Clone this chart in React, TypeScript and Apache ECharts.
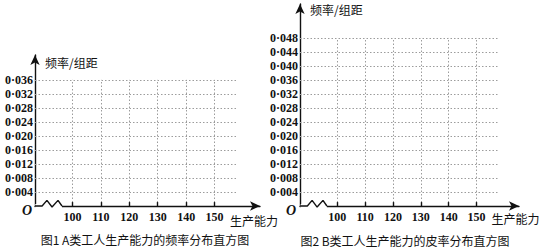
import React, { useEffect, useRef } from "react";
import * as echarts from "echarts";

// Capacity classes marked on both horizontal axes
const capacityTicks = [100, 110, 120, 130, 140, 150];
// Frequency / class-width levels for the A and B worker charts
const densityTicksA = [0.004, 0.008, 0.012, 0.016, 0.02, 0.024, 0.028, 0.032, 0.036];
const densityTicksB = [0.004, 0.008, 0.012, 0.016, 0.02, 0.024, 0.028, 0.032, 0.036, 0.04, 0.044, 0.048];
const densityStep = 0.004;
// Axis-break zigzag near the origin (data units)
const breakX = [86.8, 89.3, 91.0, 92.8, 94.9, 96.3];
const breakY = [0, 0, 0.0016, -0.0003, 0.0016, 0];

const yName = "频率/组距";
const xName = "生产能力";
const captionA = "图1 A类工人生产能力的频率分布直方图";
const captionB = "图2 B类工人生产能力的皮率分布直方图";

const serif = "Liberation Serif";
const cjk = "Noto Sans CJK SC";
const ink = "#111111";
const gridColor = "#9c9c9c";

type Panel = {
  grid: { left: number; top: number; width: number; height: number };
  xMin: number;
  xMax: number;
  xGridEnd: number;
  yMax: number;
  yTicks: number[];
  xNameGap: number;
  xNamePadTop: number;
  yNameGap: number;
};

const panels: Panel[] = [
  {
    grid: { left: 35, top: 55, width: 225, height: 151 },
    xMin: 86.8,
    xMax: 166.0,
    xGridEnd: 157.9,
    yMax: 0.0431,
    yTicks: densityTicksA,
    xNameGap: -30,
    xNamePadTop: 8,
    yNameGap: -7,
  },
  {
    grid: { left: 300, top: 4, width: 222, height: 202 },
    xMin: 86.66,
    xMax: 165.2,
    xGridEnd: 157.5,
    yMax: 0.0577,
    yTicks: densityTicksB,
    xNameGap: -28,
    xNamePadTop: 6,
    yNameGap: -5,
  },
];

const fmtDensity = (v: number) => "0·" + String(Math.round(v * 1000)).padStart(3, "0");

function buildOption() {
  const grids = panels.map((p) => ({ ...p.grid, containLabel: false }));

  const xAxes = panels.map((p, i) => ({
    type: "value",
    gridIndex: i,
    min: p.xMin,
    max: p.xMax,
    minInterval: 10,
    maxInterval: 10,
    name: xName,
    nameLocation: "end",
    nameGap: p.xNameGap,
    nameTextStyle: {
      fontFamily: cjk,
      fontSize: 12,
      color: ink,
      align: "left",
      verticalAlign: "top",
      padding: [p.xNamePadTop, 0, 0, 0],
    },
    axisLine: {
      show: true,
      symbol: ["none", "arrow"],
      symbolSize: [7, 10],
      lineStyle: { color: ink, width: 1.4 },
    },
    axisTick: { show: false },
    axisLabel: {
      show: true,
      margin: 5,
      fontFamily: serif,
      fontWeight: "bold",
      fontSize: 12,
      color: ink,
      showMinLabel: false,
      showMaxLabel: false,
      formatter: (v: number) => (capacityTicks.includes(Math.round(v)) ? String(Math.round(v)) : ""),
    },
    splitLine: { show: false },
  }));

  const yAxes = panels.map((p, i) => ({
    type: "value",
    gridIndex: i,
    min: 0,
    max: p.yMax,
    interval: densityStep,
    name: yName,
    nameLocation: "end",
    nameGap: p.yNameGap,
    nameTextStyle: {
      fontFamily: cjk,
      fontSize: 12,
      color: ink,
      align: "left",
      verticalAlign: "middle",
      padding: [0, 0, 0, 10],
    },
    axisLine: {
      show: true,
      symbol: ["none", "arrow"],
      symbolSize: [7, 10],
      lineStyle: { color: ink, width: 1.4 },
    },
    axisTick: { show: false },
    axisLabel: {
      show: true,
      margin: 2,
      fontFamily: serif,
      fontWeight: "bold",
      fontSize: 12,
      color: ink,
      showMaxLabel: false,
      formatter: (v: number) => {
        const top = p.yTicks[p.yTicks.length - 1];
        return v > 1e-9 && v <= top + 1e-9 ? fmtDensity(v) : "";
      },
    },
    splitLine: { show: false },
  }));

  const series: any[] = [];
  panels.forEach((p, i) => {
    const yTop = p.yTicks[p.yTicks.length - 1];
    const tickLen = densityStep * 0.28;
    const hLines = p.yTicks.map((v) => [{ coord: [p.xMin, v] }, { coord: [p.xGridEnd, v] }]);
    const vLines = capacityTicks.map((t) => [{ coord: [t, 0] }, { coord: [t, yTop] }]);
    // dotted grid
    series.push({
      type: "line",
      xAxisIndex: i,
      yAxisIndex: i,
      data: [[p.xMin, 0]],
      showSymbol: false,
      lineStyle: { opacity: 0 },
      silent: true,
      markLine: {
        silent: true,
        symbol: ["none", "none"],
        label: { show: false },
        lineStyle: { color: gridColor, width: 1, type: [1.5, 2] },
        data: [...hLines, ...vLines],
      },
    });
    // mask the straight axis under the break, plus solid class ticks
    series.push({
      type: "line",
      xAxisIndex: i,
      yAxisIndex: i,
      data: [
        [breakX[0] + 0.1, 0],
        [breakX[breakX.length - 1], 0],
      ],
      showSymbol: false,
      clip: false,
      silent: true,
      lineStyle: { color: "#ffffff", width: 4 },
      z: 3,
      markLine: {
        silent: true,
        symbol: ["none", "none"],
        label: { show: false },
        lineStyle: { color: ink, width: 1.4, type: "solid" },
        data: capacityTicks.map((t) => [{ coord: [t, 0] }, { coord: [t, tickLen] }]),
      },
    });
    // zigzag axis break
    series.push({
      type: "line",
      xAxisIndex: i,
      yAxisIndex: i,
      data: breakX.map((x, k) => [x, breakY[k]]),
      showSymbol: false,
      clip: false,
      silent: true,
      lineStyle: { color: ink, width: 1.4 },
      z: 4,
    });
  });

  const originStyle = {
    text: "O",
    fontFamily: serif,
    fontStyle: "italic",
    fontWeight: "bold",
    fontSize: 14,
    fill: ink,
    align: "center",
    verticalAlign: "middle",
  };
  const captionStyle = {
    fontFamily: cjk,
    fontSize: 12,
    fill: ink,
    align: "center",
    verticalAlign: "middle",
  };

  const graphic = [
    { type: "text", x: 27, y: 210, style: originStyle },
    { type: "text", x: 291, y: 210, style: originStyle },
    { type: "text", x: 145, y: 239, style: { ...captionStyle, text: captionA } },
    { type: "text", x: 405, y: 240, style: { ...captionStyle, text: captionB } },
  ];

  return {
    animation: false,
    backgroundColor: "#ffffff",
    grid: grids,
    xAxis: xAxes,
    yAxis: yAxes,
    series,
    graphic,
  };
}

export default function App() {
  const ref = useRef<HTMLDivElement>(null);
  useEffect(() => {
    if (!ref.current) return;
    const chart = echarts.init(ref.current, undefined, { renderer: "svg" });
    chart.setOption(buildOption() as any);
    return () => chart.dispose();
  }, []);
  return (
    <div
      ref={ref}
      style={{ position: "fixed", left: 0, top: 0, width: 542, height: 248, background: "#fff" }}
    />
  );
}
